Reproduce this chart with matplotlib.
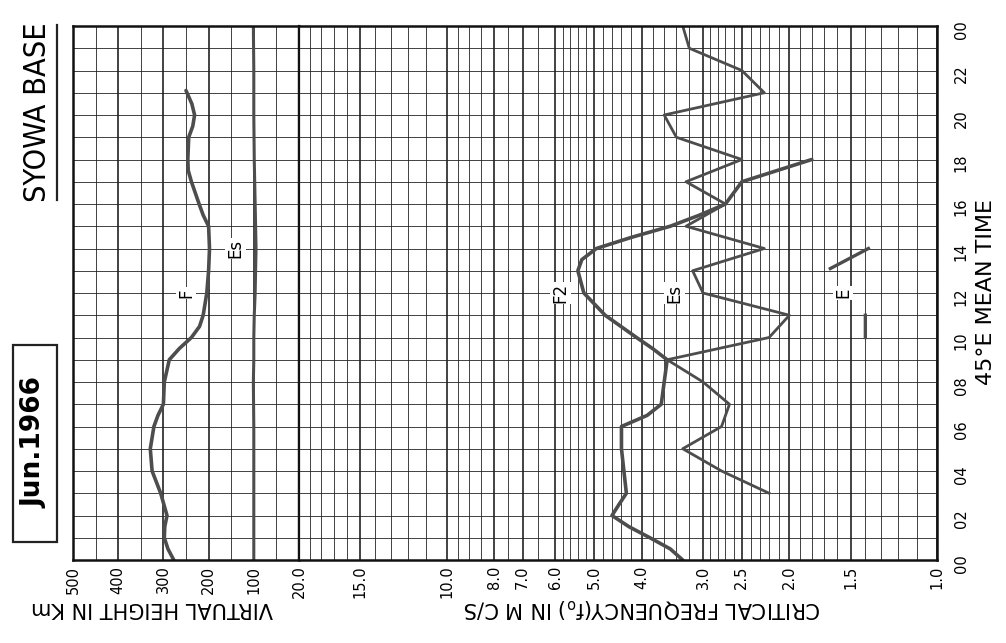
import matplotlib
matplotlib.use("Agg")
import numpy as np
import matplotlib.pyplot as plt
from matplotlib.lines import Line2D
from matplotlib.patches import Rectangle

plt.rcParams["font.family"] = ["DejaVu Sans"]

# --- data ---
# F layer virtual height (km)
f_time = [0, 0.5, 1, 1.5, 2, 3, 4, 5, 6, 6.5, 7, 8, 9, 9.5, 10, 10.5, 11, 12,
          13, 14, 15, 15.5, 16, 17, 17.5, 18, 19, 19.5, 20, 20.5, 21.1]
f_height = [277, 290, 298, 297, 292, 306, 325, 329, 321, 312, 300, 298, 287, 265, 238, 220, 212, 204,
            200, 198, 200, 212, 221, 238, 245, 246, 244, 235, 231, 237, 250]

# Es virtual height (km)
es_h_time = [0, 2, 4, 6, 8, 9, 10, 11, 12, 13, 14, 15, 16, 17, 18, 20, 22, 24]
es_height = [100, 100, 100, 100, 101, 100, 100, 99, 97, 96, 95, 96, 97, 98, 99, 100, 100, 101]

# foF2 (MHz)
f2_time = [0, 0.5, 1, 1.5, 2, 2.5, 3, 4, 5, 6, 6.5, 7, 8, 9, 9.5, 10, 11, 12, 13,
           13.5, 14, 14.5, 15, 15.5, 16, 17, 18]
f2_freq = [3.3, 3.5, 3.85, 4.25, 4.6, 4.45, 4.3, 4.35, 4.4, 4.4, 3.9, 3.65, 3.6, 3.55, 3.8, 4.1,
           4.75, 5.25, 5.4, 5.3, 4.95, 4.2, 3.5, 3.05, 2.7, 2.5, 1.8]

# foEs (MHz)
es_time = [3, 4, 5, 6, 7, 8, 9, 10, 11, 12, 13, 14, 15, 16, 17, 18, 19, 20, 21, 22, 23, 24]
es_freq = [2.2, 2.75, 3.3, 2.75, 2.65, 3.0, 3.55, 2.2, 2.0, 3.0, 3.15, 2.25, 3.25, 2.7, 3.25, 2.5,
           3.4, 3.6, 2.25, 2.5, 3.2, 3.3]

# foE (MHz), two short pieces
e_time = [10, 11, 12, 13.1, 14]
e_freq = [1.4, 1.4, np.nan, 1.65, 1.38]

height_ticks = [500, 400, 300, 200, 100]
height_labels = ["500", "400", "300", "200", "100"]
freq_ticks = [20, 15, 10, 8, 7, 6, 5, 4, 3, 2.5, 2, 1.5, 1]
freq_labels = ["20.0", "15.0", "10.0", "8.0", "7.0", "6.0", "5.0", "4.0", "3.0", "2.5", "2.0", "1.5", "1.0"]
freq_minor = (list(range(11, 20)) + [9.5, 9, 8.5, 7.5, 6.5, 5.8, 5.6, 5.4, 5.2, 4.8, 4.6, 4.4, 4.2,
              3.8, 3.6, 3.4, 3.2, 2.9, 2.8, 2.7, 2.6, 2.4, 2.3, 2.2, 2.1,
              1.9, 1.8, 1.7, 1.6, 1.4, 1.3, 1.2, 1.1])
hour_ticks = list(range(0, 25, 2))
hour_labels = ["00", "02", "04", "06", "08", "10", "12", "14", "16", "18", "20", "22", "00"]

W, H = 1006, 643
fig = plt.figure(figsize=(W / 100, H / 100), dpi=100)
fig.patch.set_facecolor("white")

x0, xm, x1 = 73, 299, 937
ytop, ybot = 26, 560
b = (H - ybot) / H
h = (ybot - ytop) / H

ax_h = fig.add_axes([x0 / W, b, (xm - x0) / W, h])
ax_f = fig.add_axes([xm / W, b, (x1 - xm) / W, h], sharey=ax_h)

grid_c = "#222222"
curve_c = "#4d4d4d"

# height panel
ax_h.set_xlim(500, 0)
ax_h.set_ylim(0, 24)
ax_h.set_xticks(height_ticks)
ax_h.set_xticklabels(height_labels)
ax_h.set_xticks(range(50, 500, 100), minor=True)
ax_h.set_yticks(hour_ticks)
ax_h.set_yticks(range(1, 24, 2), minor=True)
ax_h.grid(which="major", axis="x", color=grid_c, lw=1.2)
ax_h.grid(which="minor", axis="x", color=grid_c, lw=0.6)
ax_h.grid(which="both", axis="y", color=grid_c, lw=0.6)
ax_h.axvline(0, color=grid_c, lw=1.6)
ax_h.tick_params(axis="y", which="both", left=False, labelleft=False)
ax_h.tick_params(axis="x", which="both", length=0, pad=4, labelsize=10.5, labelrotation=90)
ax_h.plot(f_height, f_time, color=curve_c, lw=2.6, solid_capstyle="round")
ax_h.plot(es_height, es_h_time, color=curve_c, lw=2.2)

# frequency panel
ax_f.set_xscale("log")
ax_f.set_xlim(20, 1)
ax_f.set_xticks(freq_ticks)
ax_f.set_xticklabels(freq_labels)
ax_f.set_xticks(freq_minor, minor=True)
ax_f.xaxis.set_minor_formatter(plt.NullFormatter())
ax_f.grid(which="major", axis="x", color=grid_c, lw=1.2)
ax_f.grid(which="minor", axis="x", color=grid_c, lw=0.6)
ax_f.grid(which="both", axis="y", color=grid_c, lw=0.6)
ax_f.yaxis.tick_right()
ax_f.set_yticks(hour_ticks)
ax_f.set_yticklabels(hour_labels)
ax_f.tick_params(axis="y", which="both", length=0, pad=12, labelsize=10.5, labelrotation=90)
ax_f.tick_params(axis="y", which="minor", right=False)
ax_f.tick_params(axis="x", which="both", length=0, pad=4, labelsize=10.5, labelrotation=90)
ax_f.plot(f2_freq, f2_time, color=curve_c, lw=2.6, solid_capstyle="round")
ax_f.plot(es_freq, es_time, color=curve_c, lw=2.0)
ax_f.plot(e_freq, e_time, color=curve_c, lw=2.4)

for ax in (ax_h, ax_f):
    for s in ax.spines.values():
        s.set_linewidth(1.8)
        s.set_color("#111111")
ax_h.spines["right"].set_visible(False)
ax_f.spines["left"].set_linewidth(1.6)

# curve labels
lab = dict(rotation=90, ha="center", va="center", fontsize=12,
           bbox=dict(facecolor="white", edgecolor="none", pad=1.0))
ax_h.text(250, 12, "F", **lab)
ax_h.text(140, 14, "Es", **lab)
ax_f.text(5.85, 12, "F2", **lab)
ax_f.text(3.43, 12, "Es", **lab)
ax_f.text(1.555, 12, "E", **lab)

# axis titles
fig.text(152 / W, 1 - 608 / H, "VIRTUAL HEIGHT IN Km", rotation=180,
         ha="center", va="center", fontsize=15)
fig.text(642 / W, 1 - 608 / H, r"CRITICAL FREQUENCY($\mathrm{f_o}$) IN M C/S", rotation=180,
         ha="center", va="center", fontsize=15)
fig.text(986 / W, 1 - 292 / H, "45°E MEAN TIME", rotation=90,
         ha="center", va="center", fontsize=16)

# header
fig.text(38 / W, 1 - 112 / H, "SYOWA BASE", rotation=90, ha="center", va="center",
         fontsize=22, fontstretch="condensed", family=["DejaVu Sans"])
fig.add_artist(Line2D([57 / W, 57 / W], [1 - 25 / H, 1 - 200 / H], color="#222222",
                      lw=1.6, transform=fig.transFigure))
fig.add_artist(Rectangle((13 / W, 1 - 542 / H), 44 / W, 197 / H, fill=False,
                         edgecolor="#222222", lw=1.6, transform=fig.transFigure))
fig.text(35 / W, 1 - 443 / H, "Jun.1966", rotation=90, ha="center", va="center",
         fontsize=19, fontweight="bold")

fig.savefig("out.png", dpi=100, facecolor="white")
